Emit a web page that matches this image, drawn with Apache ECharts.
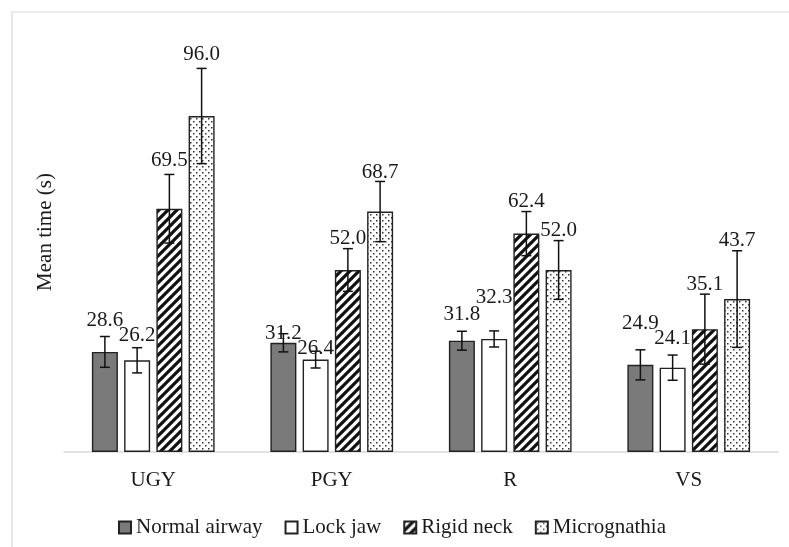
<!DOCTYPE html>
<html><head><meta charset="utf-8">
<script src="https://cdn.jsdelivr.net/npm/echarts@6/dist/echarts.min.js"></script>
<style>html,body{margin:0;padding:0;background:#fff}#c{width:789px;height:547px}</style>
</head><body><div id="c"></div>
<script>
const categories = ['UGY', 'PGY', 'R', 'VS'];
const seriesNames = ['Normal airway', 'Lock jaw', 'Rigid neck', 'Micrognathia'];
const normalAirway = [28.6, 31.2, 31.8, 24.9];
const lockJaw = [26.2, 26.4, 32.3, 24.1];
const rigidNeck = [69.5, 52.0, 62.4, 35.1];
const micrognathia = [96.0, 68.7, 52.0, 43.7];
const normalAirwayErr = [4.4, 2.6, 2.7, 4.3];
const lockJawErr = [3.6, 2.4, 2.3, 3.6];
const rigidNeckErr = [9.8, 6.1, 6.3, 10.0];
const micrognathiaErr = [13.6, 8.6, 8.4, 13.8];

// label nudges upward (px), mimicking hand-placed labels
const labelLift = [[6, -10, 6, 16], [2, -8, 23, 6], [3, 0, 0, -1], [3, -2, 0, 0]];

const values = [normalAirway, lockJaw, rigidNeck, micrognathia];
const errs = [normalAirwayErr, lockJawErr, rigidNeckErr, micrognathiaErr];

const FONT = '"Liberation Serif", "Times New Roman", serif';
const BAR_W = 26, BAR_GAP = 0.24;

function stripes() {
  const n = 9;
  const c = document.createElement('canvas'); c.width = c.height = n;
  const g = c.getContext('2d');
  g.fillStyle = '#fff'; g.fillRect(0, 0, n, n);
  g.strokeStyle = '#111'; g.lineWidth = 3.2; g.lineCap = 'square';
  g.beginPath();
  for (let k = -1; k <= 1; k++) { g.moveTo(k * n - 1, n + 1); g.lineTo(k * n + n + 1, -1); }
  g.stroke();
  return c;
}
function dots() {
  const n = 6;
  const c = document.createElement('canvas'); c.width = c.height = n;
  const g = c.getContext('2d');
  g.fillStyle = '#fff'; g.fillRect(0, 0, n, n);
  g.fillStyle = '#333';
  g.fillRect(1, 1, 1.5, 1.5);
  g.fillRect(4, 4, 1.5, 1.5);
  return c;
}
const fills = [
  '#7a7a7a',
  '#ffffff',
  { image: stripes(), repeat: 'repeat' },
  { image: dots(), repeat: 'repeat' }
];

const barSeries = seriesNames.map((name, s) => ({
  name, type: 'bar', data: values[s],
  barWidth: BAR_W, barGap: (BAR_GAP * 100) + '%',
  itemStyle: { color: fills[s], borderColor: '#222', borderWidth: 1.4 },
  emphasis: { disabled: true }, z: 2
}));

const errData = [];
values.forEach((arr, s) => arr.forEach((v, i) => errData.push([i, v, errs[s][i], s, labelLift[s][i]])));

const errSeries = {
  type: 'custom', data: errData, z: 10, silent: true,
  renderItem(params, api) {
    const i = api.value(0), v = api.value(1), e = api.value(2), s = api.value(3), lift = api.value(4);
    const off = (s - 1.5) * BAR_W * (1 + BAR_GAP);
    const top = api.coord([i, v + e]), bot = api.coord([i, v - e]);
    const x = top[0] + off;
    const st = { stroke: '#111', lineWidth: 1.5 };
    return {
      type: 'group', children: [
        { type: 'line', shape: { x1: x, y1: top[1], x2: x, y2: bot[1] }, style: st },
        { type: 'line', shape: { x1: x - 5, y1: top[1], x2: x + 5, y2: top[1] }, style: st },
        { type: 'line', shape: { x1: x - 5, y1: bot[1], x2: x + 5, y2: bot[1] }, style: st },
        { type: 'text', style: { text: v.toFixed(1), x: x, y: top[1] - lift, align: 'center', verticalAlign: 'bottom', font: '21px ' + FONT, fill: '#1a1a1a' } }
      ]
    };
  }
};

const chart = echarts.init(document.getElementById('c'));
chart.setOption({
  animation: false,
  backgroundColor: '#fff',
  grid: { left: 64, right: 11, top: 32, bottom: 95 },
  xAxis: {
    type: 'category', data: categories,
    axisLine: { lineStyle: { color: '#d9d9d9', width: 1.5 } },
    axisTick: { show: false },
    axisLabel: { fontFamily: FONT, fontSize: 21, color: '#1a1a1a', margin: 18 }
  },
  yAxis: { type: 'value', min: 0, max: 120, show: false },
  legend: {
    data: seriesNames, left: 113, top: 512, icon: 'rect',
    itemWidth: 12, itemHeight: 12, itemGap: 22,
    textStyle: { fontFamily: FONT, fontSize: 21, color: '#1a1a1a' }
  },
  graphic: [
    { type: 'rect', shape: { x: 12, y: 12, width: 800, height: 600 }, style: { fill: 'none', stroke: '#d9d9d9', lineWidth: 1.2 }, silent: true, z: -10 },
    { type: 'text', x: 45, y: 232, rotation: Math.PI / 2, style: { text: 'Mean time (s)', align: 'center', verticalAlign: 'middle', font: '21px ' + FONT, fill: '#1a1a1a' } }
  ],
  series: [...barSeries, errSeries]
});
</script>
</body></html>
